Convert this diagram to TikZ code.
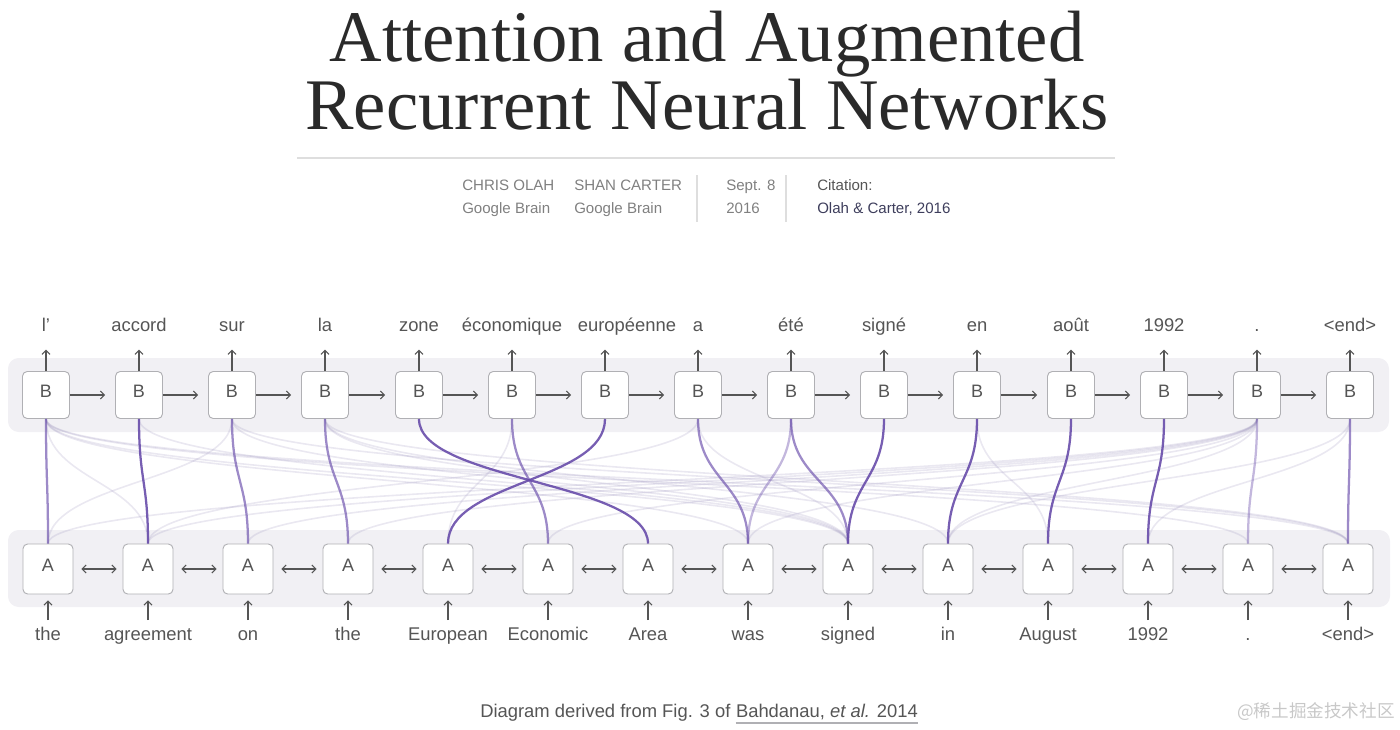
\documentclass[tikz,border=0pt]{standalone}
\usepackage{fontspec}
\usepackage{tikz}
\usetikzlibrary{arrows.meta,calc}
\newfontfamily\labelfont{Liberation Sans}
\newfontfamily\titlefont{Liberation Serif}
\newfontfamily\cjkfont{Noto Sans CJK SC}
\definecolor{textgray}{RGB}{85,85,85}
\definecolor{bylinegray}{RGB}{128,128,128}
\definecolor{citeblue}{RGB}{62,62,92}
\definecolor{rulegray}{RGB}{222,222,222}
\definecolor{bandgray}{RGB}{241,240,244}
\definecolor{boxborder}{RGB}{176,176,180}
\definecolor{attnpurple}{RGB}{104,76,170}
\definecolor{faintpurple}{RGB}{150,140,185}
\definecolor{markgray}{RGB}{200,200,200}

\begin{document}
\begin{tikzpicture}[x=0.75pt,y=0.75pt,yscale=-1,xscale=1,
    bbox/.style={draw=boxborder,fill=white,rounded corners=3.5pt,line width=0.7pt,minimum width=35.25pt,minimum height=35.25pt,inner sep=0pt,text height=9.7pt,text depth=6pt,text=textgray,font=\labelfont\fontsize{13.5}{15}\selectfont},
    abox/.style={bbox,minimum width=37.5pt,minimum height=37.5pt},
    word/.style={inner sep=0pt,anchor=base,text=textgray,font=\labelfont\fontsize{13.8}{16}\selectfont},
    byline/.style={inner sep=0pt,anchor=base west,text=bylinegray,font=\labelfont\fontsize{11.3}{13}\selectfont},
    uparr/.style={draw=textgray,line width=0.8pt,-{Straight Barb[length=3pt,width=6pt]}},
    fwdarr/.style={uparr,shorten >=7.5pt},
    biarr/.style={draw=textgray,line width=0.8pt,{Straight Barb[length=3pt,width=6pt]}-{Straight Barb[length=3pt,width=6pt]},shorten <=6pt,shorten >=4.5pt},
    attn/.style={draw=attnpurple,line width=1.7pt},
    attstrong/.style={attn,opacity=0.9},
    attmid/.style={attn,opacity=0.65},
    attlight/.style={attn,opacity=0.4},
    attfaint/.style={draw=faintpurple,line width=1.2pt,opacity=0.2}
]
\path[use as bounding box] (0,0) rectangle (1400,729);

% Title
\node (title) [inner sep=0pt,anchor=base,align=center,text={rgb,255:red,42;green,42;blue,42},font=\titlefont\fontsize{54.5}{49.5}\selectfont] at (707,129) {Attention and Augmented\\Recurrent Neural Networks};
\draw [rulegray,line width=0.8pt] (297,158) -- (1115,158);

% Byline
\node (auth1) [byline] at (462,190) {CHRIS OLAH};
\node (aff1) [byline] at (462,213) {Google Brain};
\node (auth2) [byline] at (574,190) {SHAN CARTER};
\node (aff2) [byline] at (574,213) {Google Brain};
\node (date1) [byline] at (726,190) {Sept. 8};
\node (date2) [byline] at (726,213) {2016};
\node (cite1) [byline,text=textgray] at (817,190) {Citation:};
\node (cite2) [byline,text=citeblue] at (817,213) {Olah \& Carter, 2016};
\draw [rulegray,line width=0.8pt] (697,175) -- (697,222);
\draw [rulegray,line width=0.8pt] (786,175) -- (786,222);

%Shape: bands
\fill [bandgray,rounded corners=8pt] (8,358) rectangle (1389,432);
\fill [bandgray,rounded corners=8pt] (8,530) rectangle (1390,607);

% Decoder boxes
\node (b1) [bbox] at (46,395) {B};
\node (b2) [bbox] at (139,395) {B};
\node (b3) [bbox] at (232,395) {B};
\node (b4) [bbox] at (325,395) {B};
\node (b5) [bbox] at (419,395) {B};
\node (b6) [bbox] at (512,395) {B};
\node (b7) [bbox] at (605,395) {B};
\node (b8) [bbox] at (698,395) {B};
\node (b9) [bbox] at (791,395) {B};
\node (b10) [bbox] at (884,395) {B};
\node (b11) [bbox] at (977,395) {B};
\node (b12) [bbox] at (1071,395) {B};
\node (b13) [bbox] at (1164,395) {B};
\node (b14) [bbox] at (1257,395) {B};
\node (b15) [bbox] at (1350,395) {B};

% Encoder boxes
\node (a1) [abox] at (48,569) {A};
\node (a2) [abox] at (148,569) {A};
\node (a3) [abox] at (248,569) {A};
\node (a4) [abox] at (348,569) {A};
\node (a5) [abox] at (448,569) {A};
\node (a6) [abox] at (548,569) {A};
\node (a7) [abox] at (648,569) {A};
\node (a8) [abox] at (748,569) {A};
\node (a9) [abox] at (848,569) {A};
\node (a10) [abox] at (948,569) {A};
\node (a11) [abox] at (1048,569) {A};
\node (a12) [abox] at (1148,569) {A};
\node (a13) [abox] at (1248,569) {A};
\node (a14) [abox] at (1348,569) {A};

% Text Node: output words
\node (t1) [word] at (46,331) {l’};
\node (t2) [word] at (139,331) {accord};
\node (t3) [word] at (232,331) {sur};
\node (t4) [word] at (325,331) {la};
\node (t5) [word] at (419,331) {zone};
\node (t6) [word] at (512,331) {économique};
\node (t7) [word] at (627,331) {européenne};
\node (t8) [word] at (698,331) {a};
\node (t9) [word] at (791,331) {été};
\node (t10) [word] at (884,331) {signé};
\node (t11) [word] at (977,331) {en};
\node (t12) [word] at (1071,331) {août};
\node (t13) [word] at (1164,331) {1992};
\node (t14) [word] at (1257,331) {.};
\node (t15) [word] at (1350,331) {<end>};

% Text Node: input words
\node (s1) [word] at (48,640) {the};
\node (s2) [word] at (148,640) {agreement};
\node (s3) [word] at (248,640) {on};
\node (s4) [word] at (348,640) {the};
\node (s5) [word] at (448,640) {European};
\node (s6) [word] at (548,640) {Economic};
\node (s7) [word] at (648,640) {Area};
\node (s8) [word] at (748,640) {was};
\node (s9) [word] at (848,640) {signed};
\node (s10) [word] at (948,640) {in};
\node (s11) [word] at (1048,640) {August};
\node (s12) [word] at (1148,640) {1992};
\node (s13) [word] at (1248,640) {.};
\node (s14) [word] at (1348,640) {<end>};

% output arrows
\draw [uparr,shorten >=14pt] (b1.north) -- (b1.north |- t1.base);
\draw [uparr,shorten >=14pt] (b2.north) -- (t2.base);
\draw [uparr,shorten >=14pt] (b3.north) -- (t3.base);
\draw [uparr,shorten >=14pt] (b4.north) -- (t4.base);
\draw [uparr,shorten >=14pt] (b5.north) -- (t5.base);
\draw [uparr,shorten >=14pt] (b6.north) -- (t6.base);
\draw [uparr,shorten >=14pt] (b7.north) -- (b7.north |- t7.base);
\draw [uparr,shorten >=14pt] (b8.north) -- (t8.base);
\draw [uparr,shorten >=14pt] (b9.north) -- (t9.base);
\draw [uparr,shorten >=14pt] (b10.north) -- (t10.base);
\draw [uparr,shorten >=14pt] (b11.north) -- (t11.base);
\draw [uparr,shorten >=14pt] (b12.north) -- (t12.base);
\draw [uparr,shorten >=14pt] (b13.north) -- (t13.base);
\draw [uparr,shorten >=14pt] (b14.north) -- (t14.base);
\draw [uparr,shorten >=14pt] (b15.north) -- (t15.base);

% input arrows
\draw [uparr,shorten <=15pt,shorten >=4.5pt] (s1.base) -- (a1.south);
\draw [uparr,shorten <=15pt,shorten >=4.5pt] (s2.base) -- (a2.south);
\draw [uparr,shorten <=15pt,shorten >=4.5pt] (s3.base) -- (a3.south);
\draw [uparr,shorten <=15pt,shorten >=4.5pt] (s4.base) -- (a4.south);
\draw [uparr,shorten <=15pt,shorten >=4.5pt] (s5.base) -- (a5.south);
\draw [uparr,shorten <=15pt,shorten >=4.5pt] (s6.base) -- (a6.south);
\draw [uparr,shorten <=15pt,shorten >=4.5pt] (s7.base) -- (a7.south);
\draw [uparr,shorten <=15pt,shorten >=4.5pt] (s8.base) -- (a8.south);
\draw [uparr,shorten <=15pt,shorten >=4.5pt] (s9.base) -- (a9.south);
\draw [uparr,shorten <=15pt,shorten >=4.5pt] (s10.base) -- (a10.south);
\draw [uparr,shorten <=15pt,shorten >=4.5pt] (s11.base) -- (a11.south);
\draw [uparr,shorten <=15pt,shorten >=4.5pt] (s12.base) -- (a12.south);
\draw [uparr,shorten <=15pt,shorten >=4.5pt] (s13.base) -- (a13.south);
\draw [uparr,shorten <=15pt,shorten >=4.5pt] (s14.base) -- (a14.south);

% decoder recurrence
\draw [fwdarr] (b1) -- (b2);
\draw [fwdarr] (b2) -- (b3);
\draw [fwdarr] (b3) -- (b4);
\draw [fwdarr] (b4) -- (b5);
\draw [fwdarr] (b5) -- (b6);
\draw [fwdarr] (b6) -- (b7);
\draw [fwdarr] (b7) -- (b8);
\draw [fwdarr] (b8) -- (b9);
\draw [fwdarr] (b9) -- (b10);
\draw [fwdarr] (b10) -- (b11);
\draw [fwdarr] (b11) -- (b12);
\draw [fwdarr] (b12) -- (b13);
\draw [fwdarr] (b13) -- (b14);
\draw [fwdarr] (b14) -- (b15);

% encoder, both ways
\draw [biarr] (a1) -- (a2);
\draw [biarr] (a2) -- (a3);
\draw [biarr] (a3) -- (a4);
\draw [biarr] (a4) -- (a5);
\draw [biarr] (a5) -- (a6);
\draw [biarr] (a6) -- (a7);
\draw [biarr] (a7) -- (a8);
\draw [biarr] (a8) -- (a9);
\draw [biarr] (a9) -- (a10);
\draw [biarr] (a10) -- (a11);
\draw [biarr] (a11) -- (a12);
\draw [biarr] (a12) -- (a13);
\draw [biarr] (a13) -- (a14);

%Curve Lines: faint attention
\draw [attfaint] (b1.south) .. controls +(0,62) and +(0,-62) .. (a2.north);
\draw [attfaint] (b1.south) .. controls +(0,62) and +(0,-62) .. (a8.north);
\draw [attfaint] (b1.south) .. controls +(0,62) and +(0,-62) .. (a9.north);
\draw [attfaint] (b1.south) .. controls +(0,62) and +(0,-62) .. (a13.north);
\draw [attfaint] (b1.south) .. controls +(0,62) and +(0,-62) .. (a14.north);
\draw [attfaint] (b2.south) .. controls +(0,62) and +(0,-62) .. (a9.north);
\draw [attfaint] (b3.south) .. controls +(0,62) and +(0,-62) .. (a1.north);
\draw [attfaint] (b3.south) .. controls +(0,62) and +(0,-62) .. (a9.north);
\draw [attfaint] (b3.south) .. controls +(0,62) and +(0,-62) .. (a14.north);
\draw [attfaint] (b4.south) .. controls +(0,62) and +(0,-62) .. (a9.north);
\draw [attfaint] (b4.south) .. controls +(0,62) and +(0,-62) .. (a10.north);
\draw [attfaint] (b4.south) .. controls +(0,62) and +(0,-62) .. (a14.north);
\draw [attfaint] (b6.south) .. controls +(0,62) and +(0,-62) .. (a5.north);
\draw [attfaint] (b8.south) .. controls +(0,62) and +(0,-62) .. (a2.north);
\draw [attfaint] (b8.south) .. controls +(0,62) and +(0,-62) .. (a9.north);
\draw [attfaint] (b11.south) .. controls +(0,62) and +(0,-62) .. (a11.north);
\draw [attfaint] (b14.south) .. controls +(0,62) and +(0,-62) .. (a1.north);
\draw [attfaint] (b14.south) .. controls +(0,62) and +(0,-62) .. (a2.north);
\draw [attfaint] (b14.south) .. controls +(0,62) and +(0,-62) .. (a3.north);
\draw [attfaint] (b14.south) .. controls +(0,62) and +(0,-62) .. (a4.north);
\draw [attfaint] (b14.south) .. controls +(0,62) and +(0,-62) .. (a6.north);
\draw [attfaint] (b14.south) .. controls +(0,62) and +(0,-62) .. (a8.north);
\draw [attfaint] (b14.south) .. controls +(0,62) and +(0,-62) .. (a10.north);
\draw [attfaint] (b15.south) .. controls +(0,62) and +(0,-62) .. (a10.north);
\draw [attfaint] (b15.south) .. controls +(0,62) and +(0,-62) .. (a12.north);

%Curve Lines: main attention
\draw [attmid] (b1.south) .. controls +(0,62) and +(0,-62) .. (a1.north);
\draw [attstrong] (b2.south) .. controls +(0,62) and +(0,-62) .. (a2.north);
\draw [attmid] (b3.south) .. controls +(0,62) and +(0,-62) .. (a3.north);
\draw [attmid] (b4.south) .. controls +(0,62) and +(0,-62) .. (a4.north);
\draw [attstrong] (b5.south) .. controls +(0,62) and +(0,-62) .. (a7.north);
\draw [attmid] (b6.south) .. controls +(0,62) and +(0,-62) .. (a6.north);
\draw [attstrong] (b7.south) .. controls +(0,62) and +(0,-62) .. (a5.north);
\draw [attmid] (b8.south) .. controls +(0,62) and +(0,-62) .. (a8.north);
\draw [attlight] (b9.south) .. controls +(0,62) and +(0,-62) .. (a8.north);
\draw [attmid] (b9.south) .. controls +(0,62) and +(0,-62) .. (a9.north);
\draw [attstrong] (b10.south) .. controls +(0,62) and +(0,-62) .. (a9.north);
\draw [attstrong] (b11.south) .. controls +(0,62) and +(0,-62) .. (a10.north);
\draw [attstrong] (b12.south) .. controls +(0,62) and +(0,-62) .. (a11.north);
\draw [attstrong] (b13.south) .. controls +(0,62) and +(0,-62) .. (a12.north);
\draw [attlight] (b14.south) .. controls +(0,62) and +(0,-62) .. (a13.north);
\draw [attmid] (b15.south) .. controls +(0,62) and +(0,-62) .. (a14.north);

% Caption
\node (cap1) [word,anchor=base west] at (480,717) {Diagram derived from Fig. 3 of};
\node (cap2) [word,anchor=base west] at ($(cap1.base east)+(5,0)$) {Bahdanau, \textit{et al.} 2014};
\draw [boxborder,line width=1.1pt] ($(cap2.base west)+(0,6)$) -- ($(cap2.base east)+(0,6)$);
\node (mark) [inner sep=0pt,anchor=base east,text=markgray,font=\cjkfont\fontsize{13.2}{15}\selectfont] at (1395,717) {@稀土掘金技术社区};
\end{tikzpicture}
\end{document}
